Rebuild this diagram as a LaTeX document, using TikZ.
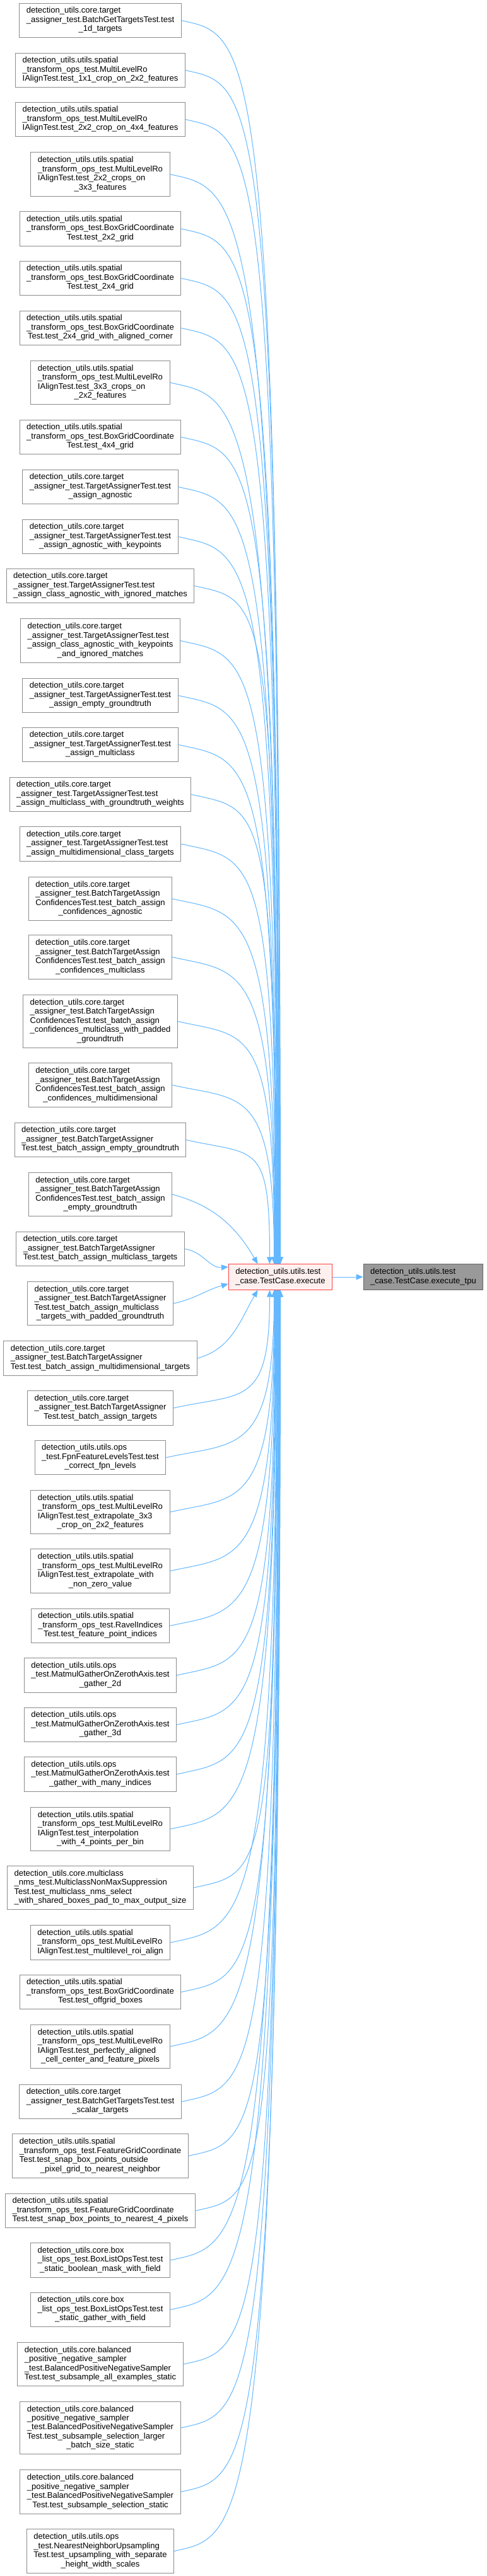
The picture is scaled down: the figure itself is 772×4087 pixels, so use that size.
\documentclass[tikz,border=0pt]{standalone}
\usepackage{fontspec}
\setmainfont{Liberation Sans}
\usetikzlibrary{
    arrows.meta,
    calc
}
\definecolor{edgeblue}{RGB}{99,184,255}
\definecolor{nodeborder}{RGB}{140,140,140}
\definecolor{execfill}{RGB}{255,240,240}
\definecolor{execborder}{RGB}{255,64,64}
\definecolor{tpufill}{RGB}{153,153,153}
\definecolor{tpuborder}{RGB}{102,102,102}
% doxygen style label: all lines left, last line centred
\newcommand{\calllabel}[2]{\begin{tabular}{@{}l@{}}#1\\\multicolumn{1}{@{}c@{}}{#2}\end{tabular}}
\tikzset{
    line cap=round,
    line join=round,
    base node/.style={
        rectangle,
        line width=1bp,
        inner xsep=11bp,
        inner ysep=5.75bp,
        font={\fontsize{13.1}{14.5}\selectfont},
        text=black
    },
    caller/.style={base node, draw=nodeborder, fill=white},
    current/.style={base node, draw=execborder, fill=execfill},
    target/.style={base node, draw=tpuborder, fill=tpufill},
    callarrow/.style={
        ->,
        >={Triangle[length=11bp, width=9bp]},
        draw=edgeblue,
        line width=1bp
    }
}
% edges from callers above / below the executed node
\newcommand{\callabove}[2]{%
    \draw[callarrow] (#1.east) .. controls +(110,-25) and ($(exec.north |- #1.east)+(#2,0)$) .. ($(exec.north)+(#2,0)$);}
\newcommand{\callbelow}[2]{%
    \draw[callarrow] (#1.east) .. controls +(110,25) and ($(exec.south |- #1.east)+(#2,0)$) .. ($(exec.south)+(#2,0)$);}

\begin{document}
\begin{tikzpicture}[x=1bp, y=1bp]

\useasboundingbox (0,0) rectangle (772,-4087);
\fill[white] (0,0) rectangle (772,-4087);

% Callers
\node[caller] (c1) at (159,-32.5) {\calllabel{detection\_utils.core.target\\\_assigner\_test.BatchGetTargetsTest.test}{\_1d\_targets}};
\node[caller] (c2) at (159,-111.5) {\calllabel{detection\_utils.utils.spatial\\\_transform\_ops\_test.MultiLevelRo}{IAlignTest.test\_1x1\_crop\_on\_2x2\_features}};
\node[caller] (c3) at (159,-189.5) {\calllabel{detection\_utils.utils.spatial\\\_transform\_ops\_test.MultiLevelRo}{IAlignTest.test\_2x2\_crop\_on\_4x4\_features}};
\node[caller] (c4) at (159,-276.5) {\calllabel{detection\_utils.utils.spatial\\\_transform\_ops\_test.MultiLevelRo\\IAlignTest.test\_2x2\_crops\_on}{\_3x3\_features}};
\node[caller] (c5) at (159,-363) {\calllabel{detection\_utils.utils.spatial\\\_transform\_ops\_test.BoxGridCoordinate}{Test.test\_2x2\_grid}};
\node[caller] (c6) at (159,-441.5) {\calllabel{detection\_utils.utils.spatial\\\_transform\_ops\_test.BoxGridCoordinate}{Test.test\_2x4\_grid}};
\node[caller] (c7) at (159,-520.5) {\calllabel{detection\_utils.utils.spatial\\\_transform\_ops\_test.BoxGridCoordinate}{Test.test\_2x4\_grid\_with\_aligned\_corner}};
\node[caller] (c8) at (159,-607) {\calllabel{detection\_utils.utils.spatial\\\_transform\_ops\_test.MultiLevelRo\\IAlignTest.test\_3x3\_crops\_on}{\_2x2\_features}};
\node[caller] (c9) at (159,-693.5) {\calllabel{detection\_utils.utils.spatial\\\_transform\_ops\_test.BoxGridCoordinate}{Test.test\_4x4\_grid}};
\node[caller] (c10) at (159,-772.5) {\calllabel{detection\_utils.core.target\\\_assigner\_test.TargetAssignerTest.test}{\_assign\_agnostic}};
\node[caller] (c11) at (159,-851.5) {\calllabel{detection\_utils.core.target\\\_assigner\_test.TargetAssignerTest.test}{\_assign\_agnostic\_with\_keypoints}};
\node[caller] (c12) at (159,-929.5) {\calllabel{detection\_utils.core.target\\\_assigner\_test.TargetAssignerTest.test}{\_assign\_class\_agnostic\_with\_ignored\_matches}};
\node[caller] (c13) at (159,-1016.5) {\calllabel{detection\_utils.core.target\\\_assigner\_test.TargetAssignerTest.test\\\_assign\_class\_agnostic\_with\_keypoints}{\_and\_ignored\_matches}};
\node[caller] (c14) at (159,-1103.5) {\calllabel{detection\_utils.core.target\\\_assigner\_test.TargetAssignerTest.test}{\_assign\_empty\_groundtruth}};
\node[caller] (c15) at (159,-1181.5) {\calllabel{detection\_utils.core.target\\\_assigner\_test.TargetAssignerTest.test}{\_assign\_multiclass}};
\node[caller] (c16) at (159,-1260.5) {\calllabel{detection\_utils.core.target\\\_assigner\_test.TargetAssignerTest.test}{\_assign\_multiclass\_with\_groundtruth\_weights}};
\node[caller] (c17) at (159,-1339) {\calllabel{detection\_utils.core.target\\\_assigner\_test.TargetAssignerTest.test}{\_assign\_multidimensional\_class\_targets}};
\node[caller] (c18) at (159,-1426) {\calllabel{detection\_utils.core.target\\\_assigner\_test.BatchTargetAssign\\ConfidencesTest.test\_batch\_assign}{\_confidences\_agnostic}};
\node[caller] (c19) at (159,-1518.5) {\calllabel{detection\_utils.core.target\\\_assigner\_test.BatchTargetAssign\\ConfidencesTest.test\_batch\_assign}{\_confidences\_multiclass}};
\node[caller] (c20) at (159,-1620.5) {\calllabel{detection\_utils.core.target\\\_assigner\_test.BatchTargetAssign\\ConfidencesTest.test\_batch\_assign\\\_confidences\_multiclass\_with\_padded}{\_groundtruth}};
\node[caller] (c21) at (159,-1721.5) {\calllabel{detection\_utils.core.target\\\_assigner\_test.BatchTargetAssign\\ConfidencesTest.test\_batch\_assign}{\_confidences\_multidimensional}};
\node[caller] (c22) at (159,-1808.5) {\calllabel{detection\_utils.core.target\\\_assigner\_test.BatchTargetAssigner}{Test.test\_batch\_assign\_empty\_groundtruth}};
\node[caller] (c23) at (159,-1895) {\calllabel{detection\_utils.core.target\\\_assigner\_test.BatchTargetAssign\\ConfidencesTest.test\_batch\_assign}{\_empty\_groundtruth}};
\node[caller] (c24) at (159,-1981.5) {\calllabel{detection\_utils.core.target\\\_assigner\_test.BatchTargetAssigner}{Test.test\_batch\_assign\_multiclass\_targets}};
\node[caller] (c25) at (159,-2068) {\calllabel{detection\_utils.core.target\\\_assigner\_test.BatchTargetAssigner\\Test.test\_batch\_assign\_multiclass}{\_targets\_with\_padded\_groundtruth}};
\node[caller] (c26) at (159,-2155) {\calllabel{detection\_utils.core.target\\\_assigner\_test.BatchTargetAssigner}{Test.test\_batch\_assign\_multidimensional\_targets}};
\node[caller] (c27) at (159,-2234) {\calllabel{detection\_utils.core.target\\\_assigner\_test.BatchTargetAssigner}{Test.test\_batch\_assign\_targets}};
\node[caller] (c28) at (159,-2312.5) {\calllabel{detection\_utils.utils.ops\\\_test.FpnFeatureLevelsTest.test}{\_correct\_fpn\_levels}};
\node[caller] (c29) at (159,-2399) {\calllabel{detection\_utils.utils.spatial\\\_transform\_ops\_test.MultiLevelRo\\IAlignTest.test\_extrapolate\_3x3}{\_crop\_on\_2x2\_features}};
\node[caller] (c30) at (159,-2492.5) {\calllabel{detection\_utils.utils.spatial\\\_transform\_ops\_test.MultiLevelRo\\IAlignTest.test\_extrapolate\_with}{\_non\_zero\_value}};
\node[caller] (c31) at (159,-2579.5) {\calllabel{detection\_utils.utils.spatial\\\_transform\_ops\_test.RavelIndices}{Test.test\_feature\_point\_indices}};
\node[caller] (c32) at (159,-2658) {\calllabel{detection\_utils.utils.ops\\\_test.MatmulGatherOnZerothAxis.test}{\_gather\_2d}};
\node[caller] (c33) at (159,-2736.5) {\calllabel{detection\_utils.utils.ops\\\_test.MatmulGatherOnZerothAxis.test}{\_gather\_3d}};
\node[caller] (c34) at (159,-2815) {\calllabel{detection\_utils.utils.ops\\\_test.MatmulGatherOnZerothAxis.test}{\_gather\_with\_many\_indices}};
\node[caller] (c35) at (159,-2902) {\calllabel{detection\_utils.utils.spatial\\\_transform\_ops\_test.MultiLevelRo\\IAlignTest.test\_interpolation}{\_with\_4\_points\_per\_bin}};
\node[caller] (c36) at (159,-2995) {\calllabel{detection\_utils.core.multiclass\\\_nms\_test.MulticlassNonMaxSuppression\\Test.test\_multiclass\_nms\_select}{\_with\_shared\_boxes\_pad\_to\_max\_output\_size}};
\node[caller] (c37) at (159,-3082) {\calllabel{detection\_utils.utils.spatial\\\_transform\_ops\_test.MultiLevelRo}{IAlignTest.test\_multilevel\_roi\_align}};
\node[caller] (c38) at (159,-3160.5) {\calllabel{detection\_utils.utils.spatial\\\_transform\_ops\_test.BoxGridCoordinate}{Test.test\_offgrid\_boxes}};
\node[caller] (c39) at (159,-3247) {\calllabel{detection\_utils.utils.spatial\\\_transform\_ops\_test.MultiLevelRo\\IAlignTest.test\_perfectly\_aligned}{\_cell\_center\_and\_feature\_pixels}};
\node[caller] (c40) at (159,-3334.5) {\calllabel{detection\_utils.core.target\\\_assigner\_test.BatchGetTargetsTest.test}{\_scalar\_targets}};
\node[caller] (c41) at (159,-3420.5) {\calllabel{detection\_utils.utils.spatial\\\_transform\_ops\_test.FeatureGridCoordinate\\Test.test\_snap\_box\_points\_outside}{\_pixel\_grid\_to\_nearest\_neighbor}};
\node[caller] (c42) at (159,-3507.5) {\calllabel{detection\_utils.utils.spatial\\\_transform\_ops\_test.FeatureGridCoordinate}{Test.test\_snap\_box\_points\_to\_nearest\_4\_pixels}};
\node[caller] (c43) at (159,-3586) {\calllabel{detection\_utils.core.box\\\_list\_ops\_test.BoxListOpsTest.test}{\_static\_boolean\_mask\_with\_field}};
\node[caller] (c44) at (159,-3664.5) {\calllabel{detection\_utils.core.box\\\_list\_ops\_test.BoxListOpsTest.test}{\_static\_gather\_with\_field}};
\node[caller] (c45) at (159,-3751) {\calllabel{detection\_utils.core.balanced\\\_positive\_negative\_sampler\\\_test.BalancedPositiveNegativeSampler}{Test.test\_subsample\_all\_examples\_static}};
\node[caller] (c46) at (159,-3852) {\calllabel{detection\_utils.core.balanced\\\_positive\_negative\_sampler\\\_test.BalancedPositiveNegativeSampler\\Test.test\_subsample\_selection\_larger}{\_batch\_size\_static}};
\node[caller] (c47) at (159,-3953.5) {\calllabel{detection\_utils.core.balanced\\\_positive\_negative\_sampler\\\_test.BalancedPositiveNegativeSampler}{Test.test\_subsample\_selection\_static}};
\node[caller] (c48) at (159,-4047.5) {\calllabel{detection\_utils.utils.ops\\\_test.NearestNeighborUpsampling\\Test.test\_upsampling\_with\_separate}{\_height\_width\_scales}};

% Executed function and its callee
\node[current] (exec) at (444.5,-2026) {\calllabel{detection\_utils.utils.test}{\_case.TestCase.execute}};
\node[target] (tpu) at (671,-2026) {\calllabel{detection\_utils.utils.test}{\_case.TestCase.execute\_tpu}};

% Callers above
\callabove{c1}{0}
\callabove{c2}{-0.5}
\callabove{c3}{-1}
\callabove{c4}{-1.5}
\callabove{c5}{-2}
\callabove{c6}{-2.5}
\callabove{c7}{-3}
\callabove{c8}{-3.5}
\callabove{c9}{-4}
\callabove{c10}{-4.5}
\callabove{c11}{-5}
\callabove{c12}{-5.5}
\callabove{c13}{-6}
\callabove{c14}{-6.5}
\callabove{c15}{-7}
\callabove{c16}{-7.5}
\callabove{c17}{-8}
\callabove{c18}{-8.5}
\callabove{c19}{-9}
\callabove{c20}{-9.5}
\callabove{c21}{-10}
\callabove{c22}{-17}
\draw[callarrow] (c23.east) to[out=-15, in=120] ($(exec.north)+(-36,0)$);

% Callers level with it
\draw[callarrow] (c24.east) to[out=-8, in=185] ($(exec.west)+(0,16)$);
\draw[callarrow] (c25.east) to[out=12, in=195] ($(exec.west)+(0,-11)$);

% Callers below
\draw[callarrow] (c26.east) to[out=15, in=-120] ($(exec.south)+(-36,0)$);
\callbelow{c27}{-17}
\callbelow{c28}{-10}
\callbelow{c29}{-9.5}
\callbelow{c30}{-9}
\callbelow{c31}{-8.5}
\callbelow{c32}{-8}
\callbelow{c33}{-7.5}
\callbelow{c34}{-7}
\callbelow{c35}{-6.5}
\callbelow{c36}{-6}
\callbelow{c37}{-5.5}
\callbelow{c38}{-5}
\callbelow{c39}{-4.5}
\callbelow{c40}{-4}
\callbelow{c41}{-3.5}
\callbelow{c42}{-3}
\callbelow{c43}{-2.5}
\callbelow{c44}{-2}
\callbelow{c45}{-1.5}
\callbelow{c46}{-1}
\callbelow{c47}{-0.5}
\callbelow{c48}{0}

\draw[callarrow] (exec) -- (tpu);

\end{tikzpicture}
\end{document}
